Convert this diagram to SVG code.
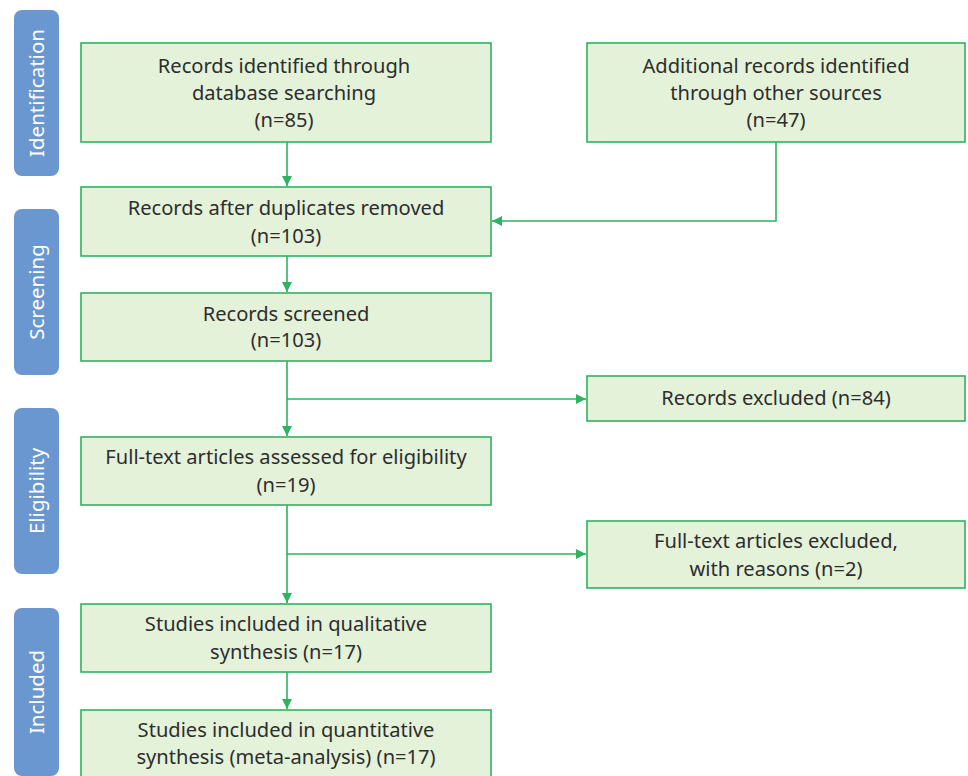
<svg xmlns="http://www.w3.org/2000/svg" width="968" height="776" viewBox="0 0 968 776">
<style>
.box{fill:#e4f2da;stroke:#2fb261;stroke-width:1.6}
.side{fill:#6a97cf}
.t{font-family:"Noto Sans","Open Sans",sans-serif;font-size:20.1px;fill:#2d2d2d;text-anchor:middle}
.s{font-family:"Noto Sans","Open Sans",sans-serif;font-size:20.5px;fill:#fff;text-anchor:middle}
.c{fill:none;stroke:#2fb261;stroke-width:1.6}
</style>
<defs>
<marker id="ah" viewBox="0 0 10 10" refX="10" refY="5" markerWidth="10" markerHeight="10" markerUnits="userSpaceOnUse" orient="auto">
<path d="M0,0 L10,5 L0,10 Z" fill="#2fb261"/>
</marker>
</defs>
<rect width="968" height="776" fill="#fff"/>
<g id="stage-identification"><rect class="side" x="14" y="10" width="45" height="166" rx="8"/><text class="s" transform="translate(44,93) rotate(-90)">Identification</text></g>
<g id="stage-screening"><rect class="side" x="14" y="209" width="45" height="166" rx="8"/><text class="s" transform="translate(44,292) rotate(-90)">Screening</text></g>
<g id="stage-eligibility"><rect class="side" x="14" y="408" width="45" height="166" rx="8"/><text class="s" transform="translate(44,491) rotate(-90)">Eligibility</text></g>
<g id="stage-included"><rect class="side" x="14" y="608" width="45" height="168" rx="8"/><text class="s" transform="translate(44,692) rotate(-90)">Included</text></g>

<g id="connectors">
<path class="c" d="M287,142 V186" marker-end="url(#ah)"/>
<path class="c" d="M776,142 V221 H492" marker-end="url(#ah)"/>
<path class="c" d="M287,256 V292" marker-end="url(#ah)"/>
<path class="c" d="M287,361 V436" marker-end="url(#ah)"/>
<path class="c" d="M287,399 H586" marker-end="url(#ah)"/>
<path class="c" d="M287,505 V603" marker-end="url(#ah)"/>
<path class="c" d="M287,554 H586" marker-end="url(#ah)"/>
<path class="c" d="M287,672 V709" marker-end="url(#ah)"/>
</g>

<g id="n1"><rect class="box" x="81" y="43" width="410" height="99"/><text class="t" x="284" y="73">Records identified through</text><text class="t" x="284" y="100">database searching</text><text class="t" x="284" y="127">(n=85)</text></g>
<g id="n2"><rect class="box" x="587" y="43" width="378" height="99"/><text class="t" x="776" y="73">Additional records identified</text><text class="t" x="776" y="100">through other sources</text><text class="t" x="776" y="127">(n=47)</text></g>
<g id="n3"><rect class="box" x="81" y="187" width="410" height="69"/><text class="t" x="286" y="215">Records after duplicates removed</text><text class="t" x="286" y="243">(n=103)</text></g>
<g id="n4"><rect class="box" x="81" y="293" width="410" height="68"/><text class="t" x="286" y="321">Records screened</text><text class="t" x="286" y="347">(n=103)</text></g>
<g id="n5"><rect class="box" x="587" y="376" width="378" height="45"/><text class="t" x="776" y="405">Records excluded (n=84)</text></g>
<g id="n6"><rect class="box" x="81" y="437" width="410" height="68"/><text class="t" x="286" y="464">Full-text articles assessed for eligibility</text><text class="t" x="286" y="492">(n=19)</text></g>
<g id="n7"><rect class="box" x="587" y="521" width="378" height="67"/><text class="t" x="776" y="548">Full-text articles excluded,</text><text class="t" x="776" y="576">with reasons (n=2)</text></g>
<g id="n8"><rect class="box" x="81" y="604" width="410" height="68"/><text class="t" x="286" y="631">Studies included in qualitative</text><text class="t" x="286" y="659">synthesis (n=17)</text></g>
<g id="n9"><rect class="box" x="81" y="710" width="410" height="70"/><text class="t" x="286" y="737">Studies included in quantitative</text><text class="t" x="286" y="764">synthesis (meta-analysis) (n=17)</text></g>
</svg>
